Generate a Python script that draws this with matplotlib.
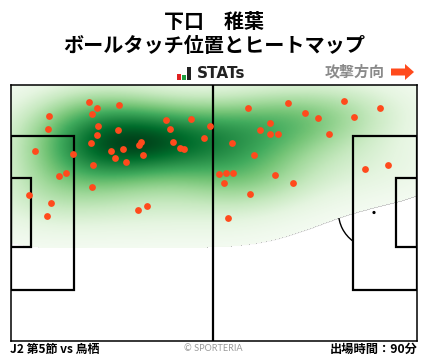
import numpy as np
import matplotlib
matplotlib.use('Agg')
import matplotlib.pyplot as plt
from matplotlib.colors import PowerNorm
from matplotlib.patches import Rectangle, Arc, Circle, FancyArrow

plt.rcParams['font.family'] = ['Noto Sans CJK JP', 'DejaVu Sans']

# touches (chart coordinates)
touch_x = [89.3, 97.3, 119.3, 92.3, 49.3, 48.3, 98.3, 118.3, 97.3, 35.3, 73.3, 91.3,
           111.3, 123.3, 115.3, 126.3, 139.3, 141.3, 143.3, 93.3, 66.3, 59.3, 92.3,
           29.3, 51.3, 47.3, 138.3, 147.3, 166.3, 191.3, 170.3, 173.3, 180.3, 184.3,
           204.3, 210.0, 248.3, 288.3, 344.3, 380.3, 305.3, 318.3, 354.3, 270.3, 260.3,
           270.3, 278.3, 329.3, 232.3, 254.3, 219.3, 226.3, 233.3, 224.3, 275.3, 293.3,
           250.3, 228.3, 365.3, 388.3]
touch_y = [102.3, 108.3, 105.3, 114.3, 116.3, 129.3, 126.3, 130.3, 135.3, 151.3, 154.3, 143.3,
           151.3, 149.3, 158.3, 162.3, 145.3, 142.3, 155.3, 165.3, 173.3, 176.3, 187.3,
           195.3, 203.3, 216.3, 210.3, 206.3, 120.3, 119.3, 129.3, 142.3, 148.3, 149.3,
           138.3, 126.3, 108.3, 103.3, 101.3, 108.3, 113.3, 118.3, 117.3, 123.3, 130.3,
           134.3, 134.3, 134.3, 143.3, 155.3, 174.3, 173.3, 173.3, 183.3, 175.3, 183.3,
           194.3, 218.3, 169.3, 165.3]

player = '下口　稚葉'
title2 = 'ボールタッチ位置とヒートマップ'
match_label = 'J2 第5節 vs 鳥栖'
minutes_label = '出場時間：90分'

fig = plt.figure(figsize=(4.28, 3.59), dpi=100)
ax = fig.add_axes([10.5 / 428, 18.5 / 359, 406 / 428, 256 / 359])
ax.set_xticks([])
ax.set_yticks([])
for s in ax.spines.values():
    s.set_linewidth(1.1)

lw = 1.6
# markings under the heat map
ax.add_patch(Arc((374, 212.5), 71, 71, theta1=126, theta2=234, color='k', lw=1, zorder=1))
ax.add_patch(Circle((374, 212.5), 1.6, color='k', lw=0, zorder=1))

# heat map, density of the touches
gx, gy = np.meshgrid(np.linspace(10.5, 416.5, 407), np.linspace(84.5, 248.5, 165))
dens = np.zeros_like(gx)
for a, b in zip(touch_x, touch_y):
    dens += np.exp(-((gx - a) / 50) ** 2 / 2 - ((gy - b) / 24) ** 2 / 2)
dens = dens / dens.max()
dens = np.ma.masked_less(dens, 0.045)
ax.imshow(dens, extent=(10.5, 416.5, 248.5, 84.5), cmap='Greens', norm=PowerNorm(1.15, vmin=0, vmax=1),
          aspect='auto', interpolation='bilinear', zorder=2)

# markings over the heat map
ax.plot([213, 213], [84.5, 340.5], color='k', lw=lw, zorder=3)
ax.add_patch(Rectangle((10.5, 135.5), 63.5, 154, fill=False, ec='k', lw=lw, zorder=3))
ax.add_patch(Rectangle((10.5, 177.5), 20.5, 69.5, fill=False, ec='k', lw=lw, zorder=3))
ax.add_patch(Rectangle((353, 135.5), 63.5, 154, fill=False, ec='k', lw=lw, zorder=3))
ax.add_patch(Rectangle((396, 177.5), 20.5, 69.5, fill=False, ec='k', lw=lw, zorder=3))
ax.set_xlim(10.5, 416.5)
ax.set_ylim(340.5, 84.5)

ax.scatter(touch_x, touch_y, s=24, color='#ff4a1c', linewidths=0, zorder=4, clip_on=False)

# titles
fig.text(214 / 428, 1 - 21.5 / 359, player, ha='center', va='center', fontsize=14.4, fontweight='bold')
fig.text(214 / 428, 1 - 46 / 359, title2, ha='center', va='center', fontsize=14.5, fontweight='bold')

# logo
fig.text(197 / 428, 1 - 73.5 / 359, 'STATs', ha='left', va='center', fontsize=11, fontweight='bold',
         family='DejaVu Sans', color='#222222')
logo = fig.add_axes([0, 0, 1, 1], facecolor='none')
logo.set_xlim(0, 428)
logo.set_ylim(359, 0)
logo.axis('off')
logo.add_patch(Rectangle((177, 74), 4, 6, color='#e02020', lw=0))
logo.add_patch(Rectangle((182, 75), 4, 5, color='#1f9e3f', lw=0))
logo.add_patch(Rectangle((187, 67), 4, 13, color='#222222', lw=0))

# attack direction
fig.text(385 / 428, 1 - 71.5 / 359, '攻撃方向', ha='right', va='center', fontsize=10.8,
         fontweight='bold', color='#8a8a8a')
logo.add_patch(FancyArrow(391, 72, 23, 0, width=7, head_width=16, head_length=9,
                          length_includes_head=True, color='#ff4a1c', lw=0))

# footer
fig.text(10.5 / 428, 1 - 349 / 359, match_label, ha='left', va='center', fontsize=8.6, fontweight='bold')
fig.text(213 / 428, 1 - 348.5 / 359, '© SPORTERIA', ha='center', va='center', fontsize=6.6,
         family='Lato', color='#999999')
fig.text(417.5 / 428, 1 - 349 / 359, minutes_label, ha='right', va='center', fontsize=8.8, fontweight='bold')

plt.savefig('out.png', dpi=100)
